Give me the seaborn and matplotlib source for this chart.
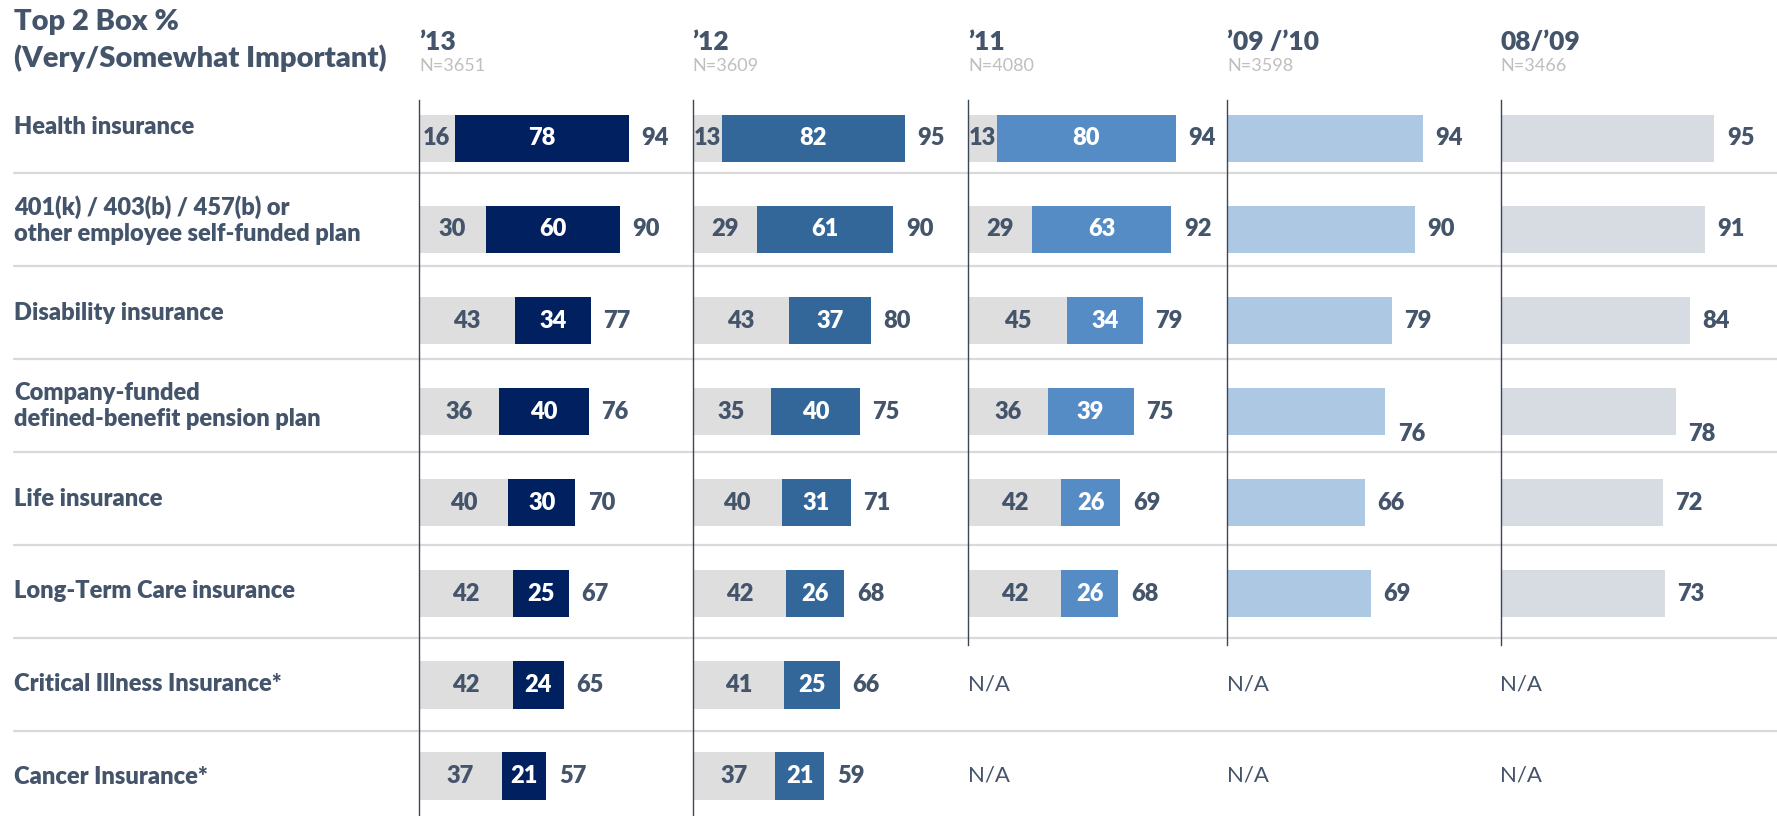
import numpy as np
import pandas as pd
import seaborn as sns
import matplotlib.pyplot as plt

# ---- data -------------------------------------------------------------
rows = ["Health insurance",
        "401(k) / 403(b) / 457(b) or\nother employee self-funded plan",
        "Disability insurance",
        "Company-funded\ndefined-benefit pension plan",
        "Life insurance",
        "Long-Term Care insurance",
        "Critical Illness Insurance*",
        "Cancer Insurance*"]

years = ["’13", "’12", "’11", "’09 /’10", "08/’09"]
sample_sizes = ["N=3651", "N=3609", "N=4080", "N=3598", "N=3466"]

somewhat_13 = [16, 30, 43, 36, 40, 42, 42, 37]
very_13 = [78, 60, 34, 40, 30, 25, 24, 21]
total_13 = [94, 90, 77, 76, 70, 67, 65, 57]

somewhat_12 = [13, 29, 43, 35, 40, 42, 41, 37]
very_12 = [82, 61, 37, 40, 31, 26, 25, 21]
total_12 = [95, 90, 80, 75, 71, 68, 66, 59]

somewhat_11 = [13, 29, 45, 36, 42, 42]
very_11 = [80, 63, 34, 39, 26, 26]
total_11 = [94, 92, 79, 75, 69, 68]

total_0910 = [94, 90, 79, 76, 66, 69]
total_0809 = [95, 91, 84, 78, 72, 73]

# ---- style ------------------------------------------------------------
sns.set_style("white")
plt.rcParams['font.family'] = ['Lato', 'DejaVu Sans']

TEXT = '#44546A'
GREY = '#DEDEDE'
colors = ['#002060', '#336699', '#558CC6', '#ADC8E3', '#D7DCE3']
BOLD = 'heavy'

W, H = 1777, 816
fig = plt.figure(figsize=(W / 100, H / 100), dpi=100)

# background layer in pixel units: titles, row labels, separators
bg = fig.add_axes([0, 0, 1, 1])
bg.set_xlim(0, W)
bg.set_ylim(H, 0)
bg.axis('off')

bg.text(14, 22, "Top 2 Box %", fontsize=21, fontweight=BOLD, color=TEXT, va='center')
bg.text(14, 58, "(Very/Somewhat Important)", fontsize=21, fontweight=BOLD, color=TEXT, va='center')

for i, r in enumerate(rows):
    bg.text(14, 127 + 92.9 * i, r, fontsize=17, fontweight=BOLD, color=TEXT,
            va='center', ha='left', linespacing=1.2)
for i in range(len(rows) - 1):
    y = 173.4 + 92.9 * i
    bg.plot([14, W], [y, y], color='#D9D9D9', lw=1.6, zorder=0)

# ---- panels -----------------------------------------------------------
lefts = [419, 692.5, 968, 1227, 1500.5]
px_per_unit = [2.233, 2.233, 2.21, 2.085, 2.25]
rights = lefts[1:] + [W]

panels = [
    (total_13, somewhat_13, very_13),
    (total_12, somewhat_12, very_12),
    (total_11, somewhat_11, very_11),
    (total_0910, None, None),
    (total_0809, None, None),
]

y0, dy = 138.3, 91.1
ylim = ((H - y0) / dy, (100 - y0) / dy)

for k, (total, somewhat, very) in enumerate(panels):
    left, right = lefts[k], rights[k]
    ax = fig.add_axes([left / W, 0, (right - left) / W, (H - 100) / H])
    ax.patch.set_alpha(0)
    n = len(total)
    df = pd.DataFrame({"row": rows[:n], "total": total})
    sns.barplot(data=df, x="total", y="row", order=rows, orient="h",
                color=colors[k], saturation=1, width=0.52, linewidth=0,
                errorbar=None, ax=ax)
    if somewhat is not None:
        df["somewhat"] = somewhat
        df["very"] = very
        sns.barplot(data=df, x="somewhat", y="row", order=rows, orient="h",
                    color=GREY, saturation=1, width=0.52, linewidth=0,
                    errorbar=None, ax=ax)
        for i in range(n):
            ax.text(somewhat[i] / 2, i, str(somewhat[i]), ha='center', va='center',
                    fontsize=17, fontweight=BOLD, color=TEXT)
            ax.text((somewhat[i] + total[i]) / 2, i, str(very[i]), ha='center',
                    va='center', fontsize=17, fontweight=BOLD, color='white')
    for i in range(n):
        dy_lbl = -16 if (somewhat is None and i == 3) else 0
        ax.annotate(str(total[i]), (total[i], i), xytext=(9, dy_lbl),
                    textcoords='offset points', ha='left', va='center',
                    fontsize=17, fontweight=BOLD, color=TEXT)
    for i in range(n, len(rows)):
        ax.text(0, i, "N/A", ha='left', va='center', fontsize=16, color=TEXT)

    ax.set_xlim(0, (right - left) / px_per_unit[k])
    ax.set_ylim(*ylim)
    ax.set_xticks([])
    ax.set_yticks([])
    ax.set_xlabel('')
    ax.set_ylabel('')
    for s in ['top', 'right', 'bottom']:
        ax.spines[s].set_visible(False)
    ax.spines['left'].set_color('#3B4656')
    ax.spines['left'].set_linewidth(1)
    if n < len(rows):
        ax.spines['left'].set_bounds((645 - y0) / dy, ylim[1])

    bg.text(left, 42, years[k], fontsize=19, fontweight=BOLD, color=TEXT, va='center')
    bg.text(left, 66, sample_sizes[k], fontsize=13, color='#BFBFBF', va='center')

fig.savefig('out.png', dpi=100)
